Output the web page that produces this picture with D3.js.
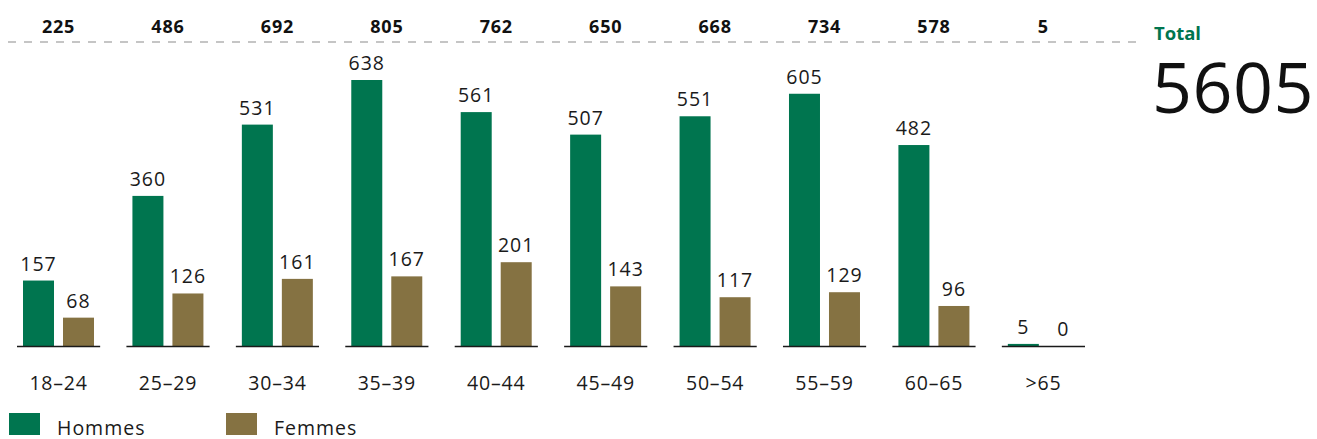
<!DOCTYPE html>
<html>
<head>
<meta charset="utf-8">
<script src="https://cdn.jsdelivr.net/npm/d3@7"></script>
<style>
  body { margin: 0; background: #fff; }
  svg { font-family: "Open Sans", "Noto Sans", sans-serif; }
</style>
</head>
<body>
<svg id="chart" width="1317" height="439"></svg>
<script>
const categories = ["18–24", "25–29", "30–34", "35–39", "40–44", "45–49", "50–54", "55–59", "60–65", ">65"];
const hommes = [157, 360, 531, 638, 561, 507, 551, 605, 482, 5];
const femmes = [68, 126, 161, 167, 201, 143, 117, 129, 96, 0];
const totals = categories.map((c, i) => hommes[i] + femmes[i]);
const grandTotal = d3.sum(totals);

const colors = { Hommes: "#00754f", Femmes: "#857242" };

const svg = d3.select("#chart");
const baseline = 346;

const x0 = d3.scaleBand()
    .domain(categories)
    .range([17, 1085])
    .paddingInner(0.24)
    .paddingOuter(0);

const x1 = d3.scaleBand()
    .domain(["Hommes", "Femmes"])
    .range([6, 77])
    .paddingInner(0.225);

const y = d3.scaleLinear()
    .domain([0, 638])
    .range([baseline, 80]);

// dashed total line
svg.append("line")
    .attr("x1", 8).attr("x2", 1142)
    .attr("y1", 42).attr("y2", 42)
    .attr("stroke", "#b3b3b3")
    .attr("stroke-width", 1.5)
    .attr("stroke-dasharray", "8,8");

const groups = svg.append("g")
    .selectAll("g")
    .data(categories.map((c, i) => ({ cat: c, Hommes: hommes[i], Femmes: femmes[i], total: totals[i] })))
    .join("g")
    .attr("transform", d => `translate(${x0(d.cat)},0)`);

groups.selectAll("rect")
    .data(d => ["Hommes", "Femmes"].map(k => ({ key: k, value: d[k] })))
    .join("rect")
    .attr("x", d => x1(d.key))
    .attr("width", x1.bandwidth())
    .attr("y", d => y(d.value))
    .attr("height", d => baseline - y(d.value))
    .attr("fill", d => colors[d.key]);

groups.selectAll("text.val")
    .data(d => ["Hommes", "Femmes"].map(k => ({ key: k, value: d[k] })))
    .join("text")
    .attr("class", "val")
    .attr("x", d => x1(d.key) + x1.bandwidth() / 2)
    .attr("y", d => y(d.value) - 10)
    .attr("text-anchor", "middle")
    .attr("font-size", 19.5)
    .attr("letter-spacing", 1)
    .attr("fill", "#1a1a1a")
    .text(d => d.value);

// baseline per group
groups.append("line")
    .attr("x1", 0).attr("x2", x0.bandwidth())
    .attr("y1", baseline + 0.5).attr("y2", baseline + 0.5)
    .attr("stroke", "#1a1a1a")
    .attr("stroke-width", 1.5);

// totals
groups.append("text")
    .attr("x", x0.bandwidth() / 2)
    .attr("y", 33)
    .attr("text-anchor", "middle")
    .attr("font-size", 18)
    .attr("letter-spacing", 0.8)
    .attr("font-weight", "bold")
    .attr("fill", "#111")
    .text(d => d.total);

// category labels
groups.append("text")
    .attr("x", x0.bandwidth() / 2)
    .attr("y", 390)
    .attr("text-anchor", "middle")
    .attr("font-size", 19.5)
    .attr("letter-spacing", 0.8)
    .attr("fill", "#1a1a1a")
    .text(d => d.cat);

// total block
svg.append("text")
    .attr("x", 1154).attr("y", 40)
    .attr("font-size", 18.5)
    .attr("font-weight", "bold")
    .attr("fill", colors.Hommes)
    .text("Total");

svg.append("text")
    .attr("x", 1152).attr("y", 113)
    .attr("font-size", 70)
    .attr("letter-spacing", 0.5)
    .attr("fill", "#111")
    .text(grandTotal);

// legend
const legend = svg.append("g")
    .selectAll("g")
    .data(["Hommes", "Femmes"])
    .join("g")
    .attr("transform", (d, i) => `translate(${9 + i * 217},413)`);

legend.append("rect")
    .attr("width", 31).attr("height", 22)
    .attr("fill", d => colors[d]);

legend.append("text")
    .attr("x", 48).attr("y", 22)
    .attr("font-size", 19.5)
    .attr("letter-spacing", 1)
    .attr("fill", "#1a1a1a")
    .text(d => d);
</script>
</body>
</html>
